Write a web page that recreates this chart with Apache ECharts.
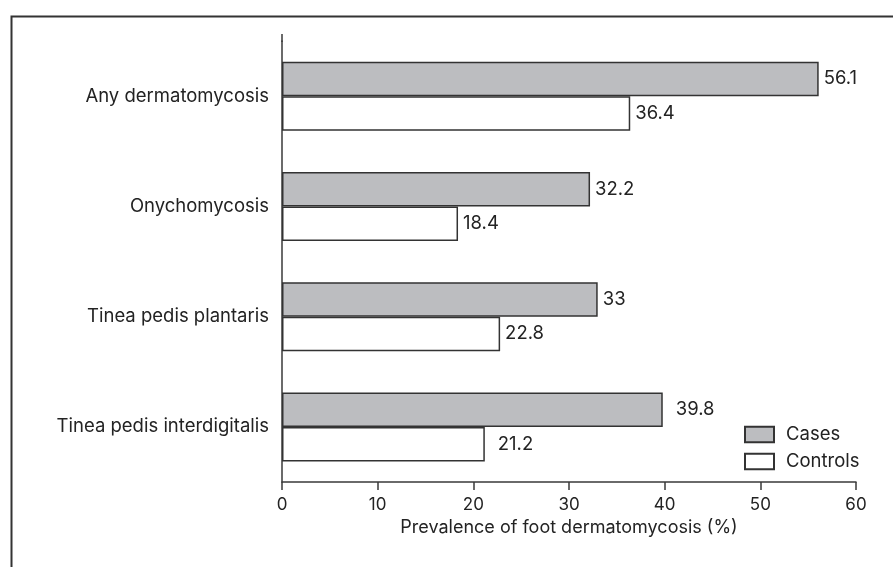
<!DOCTYPE html>
<html>
<head>
<meta charset="utf-8">
<script src="https://cdn.jsdelivr.net/npm/echarts@6/dist/echarts.min.js"></script>
<style>
  html, body { margin: 0; padding: 0; background: #fff; }
  #chart { width: 893px; height: 567px; }
</style>
</head>
<body>
<div id="chart"></div>
<script>
// data
const categories = ['Any dermatomycosis', 'Onychomycosis', 'Tinea pedis plantaris', 'Tinea pedis interdigitalis']
const cases = [56.1, 32.2, 33, 39.8]
const controls = [36.4, 18.4, 22.8, 21.2]
const xTicks = [0, 10, 20, 30, 40, 50, 60]

const font = 'Inter, Liberation Sans, Arial, sans-serif'
const ink = '#232323'
const line = '#3a3a3a'

const chart = echarts.init(document.getElementById('chart'), null, { renderer: 'canvas' })

// the labels of the last group sit a bit further from the bars in the original
const withLabels = values => values.map((v, i) => ({
  value: v,
  label: { distance: i === values.length - 1 ? 13 : 5 }
}))

const barLabel = {
  show: true,
  position: 'right',
  color: ink,
  fontFamily: font,
  fontSize: 18.5
}

chart.setOption({
  animation: false,
  backgroundColor: '#fff',
  textStyle: { fontFamily: font },
  graphic: [
    // outer frame, cut off on the right and bottom like the scan
    {
      type: 'rect',
      left: 9,
      top: 14,
      shape: { width: 1000, height: 1000 },
      style: { fill: 'none', stroke: '#333', lineWidth: 2 },
      silent: true
    },
    // y axis runs a little above the first band
    {
      type: 'line',
      shape: { x1: 282, y1: 34, x2: 282, y2: 42 },
      style: { stroke: line, lineWidth: 1.5 },
      silent: true
    }
  ],
  grid: { left: 282, right: 37, top: 41, bottom: 85 },
  legend: {
    orient: 'vertical',
    left: 744,
    top: 425,
    padding: 0,
    itemWidth: 29,
    itemHeight: 15.5,
    itemGap: 8,
    icon: 'rect',
    textStyle: { color: ink, fontSize: 18.5, fontFamily: font, lineHeight: 16, padding: [0, 0, 0, 7] },
    data: ['Cases', 'Controls']
  },
  xAxis: {
    type: 'value',
    min: 0,
    max: 60,
    interval: 10,
    name: 'Prevalence of foot dermatomycosis (%)',
    nameLocation: 'middle',
    nameGap: 37,
    nameTextStyle: { color: ink, fontSize: 18, fontFamily: font },
    axisLine: { show: true, lineStyle: { color: line, width: 1.5 } },
    axisTick: { show: true, length: 8, lineStyle: { color: line, width: 1.5 } },
    axisLabel: {
      color: ink, fontSize: 17, fontFamily: font, margin: 14,
      formatter: v => (xTicks.includes(v) ? String(v) : '')
    },
    splitLine: { show: false }
  },
  yAxis: {
    type: 'category',
    inverse: true,
    data: categories,
    axisLine: { show: true, lineStyle: { color: line, width: 1.5 } },
    axisTick: { show: false },
    axisLabel: { color: ink, fontSize: 18.5, fontFamily: font, margin: 13 }
  },
  series: [
    {
      name: 'Cases',
      type: 'bar',
      data: withLabels(cases),
      barWidth: 34.5,
      barGap: '0%',
      itemStyle: { color: '#bcbdc0', borderColor: '#333', borderWidth: 1.5 },
      label: barLabel
    },
    {
      name: 'Controls',
      type: 'bar',
      data: withLabels(controls),
      barWidth: 34.5,
      barGap: '0%',
      itemStyle: { color: '#fff', borderColor: '#333', borderWidth: 1.5 },
      label: barLabel
    }
  ]
})

window.addEventListener('resize', () => chart.resize())
</script>
</body>
</html>
